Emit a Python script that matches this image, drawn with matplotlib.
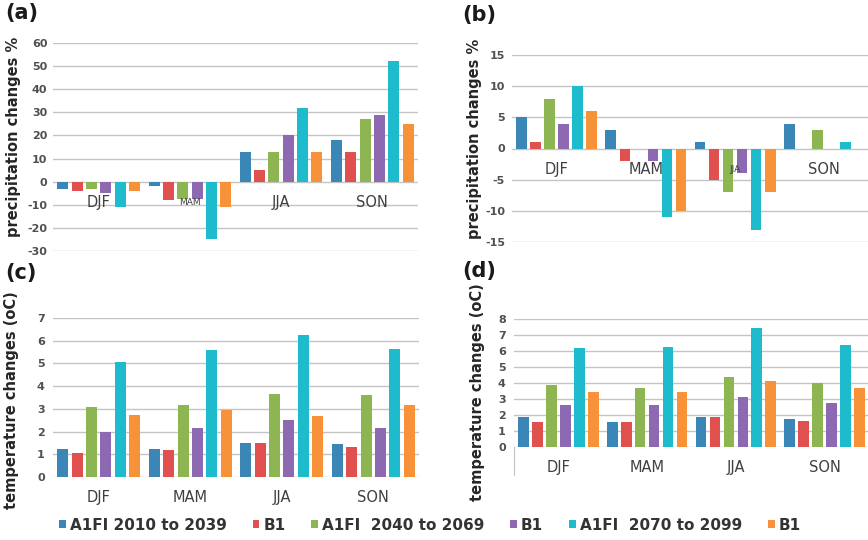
import numpy as np
import matplotlib
matplotlib.use("Agg")
import matplotlib.pyplot as plt
from matplotlib.patches import Patch

seasons = ["DJF", "MAM", "JJA", "SON"]
series_labels = ["A1FI 2010 to 2039", "B1", "A1FI  2040 to 2069", "B1",
                 "A1FI  2070 to 2099", "B1"]
colors = ["#3A87B7", "#E0504E", "#8DB653", "#8D69B1", "#1DBBCC", "#F79239"]

# rows = series (in legend order), columns = seasons
precip_a = [
    [-3, -2, 13, 18],
    [-4, -8, 5, 13],
    [-3, -7.5, 13, 27],
    [-5, -7.5, 20, 29],
    [-11, -25, 32, 52],
    [-4, -11, 13, 25],
]
precip_b = [
    [5, 3, 1, 4],
    [1, -2, -5, 0],
    [8, 0, -7, 3],
    [4, -2, -4, 0],
    [10, -11, -13, 1],
    [6, -10, -7, 0],
]
temp_c = [
    [1.25, 1.25, 1.5, 1.45],
    [1.05, 1.2, 1.5, 1.3],
    [3.1, 3.15, 3.65, 3.6],
    [2.0, 2.15, 2.5, 2.15],
    [5.05, 5.6, 6.25, 5.65],
    [2.75, 2.95, 2.7, 3.15],
]
temp_d = [
    [1.85, 1.55, 1.85, 1.75],
    [1.55, 1.55, 1.9, 1.6],
    [3.9, 3.7, 4.4, 4.0],
    [2.6, 2.6, 3.15, 2.75],
    [6.2, 6.25, 7.45, 6.4],
    [3.45, 3.45, 4.1, 3.7],
]

plt.rcParams['font.family'] = ['DejaVu Sans']
plt.rcParams['axes.unicode_minus'] = False

W, H = 868, 540
fig = plt.figure(figsize=(W / 100, H / 100), dpi=100)


def fpos(left, top, right, bottom):
    return [left / W, 1 - bottom / H, (right - left) / W, (bottom - top) / H]


panels = [
    dict(data=precip_a, pos=fpos(53, 43, 418, 251), ylim=(-30, 60), step=10,
         ylabel="precipitation changes %", letter="(a)", lx=5, ly=3,
         ylx=14, yly=137, small="MAM", pad=4),
    dict(data=precip_b, pos=fpos(512, 55, 869, 242), ylim=(-15, 15), step=5,
         ylabel="precipitation changes %", letter="(b)", lx=462, ly=5,
         ylx=475, yly=139, small="JJA", pad=5),
    dict(data=temp_c, pos=fpos(53, 318, 419, 477), ylim=(0, 7), step=1,
         ylabel="temperature changes (oC)", letter="(c)", lx=5, ly=263,
         ylx=12, yly=400, small=None, pad=6),
    dict(data=temp_d, pos=fpos(514, 319, 869, 447), ylim=(0, 8), step=1,
         ylabel="temperature changes (oC)", letter="(d)", lx=462, ly=261,
         ylx=477, yly=392, small=None, pad=6),
]

x = np.arange(len(seasons))
slot = 0.157
bw = 0.12
grid_c = "#C4C4C4"
txt_c = "#404040"

for p in panels:
    ax = fig.add_axes(p["pos"])
    ax.set_xlim(-0.5, len(seasons) - 0.5)
    ax.set_ylim(*p["ylim"])
    ax.set_yticks(np.arange(p["ylim"][0], p["ylim"][1] + 0.001, p["step"]))
    ax.yaxis.grid(True, color=grid_c, linewidth=1.0)
    ax.set_axisbelow(True)
    for s in ["top", "right", "bottom", "left"]:
        ax.spines[s].set_visible(False)
    ax.set_xticks([])
    ax.tick_params(axis="y", length=0, pad=p["pad"], labelsize=8,
                   labelcolor="#505050")
    for lab in ax.get_yticklabels():
        lab.set_fontweight("bold")
    for i, vals in enumerate(p["data"]):
        ax.bar(x + (i - 2.5) * slot, vals, width=bw, color=colors[i],
               zorder=3)
    for j, s in enumerate(seasons):
        fs = 6.5 if s == p["small"] else 10.5
        ax.annotate(s, (x[j], 0), xytext=(0, -15), textcoords="offset points",
                    ha="center", va="center", fontsize=fs, color=txt_c,
                    zorder=4)
    ax.set_ylabel(p["ylabel"], fontsize=10.5, fontweight="bold", color="#262626")
    ax.yaxis.set_label_coords(p["ylx"] / W, 1 - p["yly"] / H,
                              transform=fig.transFigure)
    ax.yaxis.label.set_va("center")
    fig.text(p["lx"] / W, 1 - p["ly"] / H, p["letter"], fontsize=15,
             fontweight="bold", color="#1a1a1a", ha="left", va="top")
    if p["letter"] == "(d)":
        ax.spines["left"].set_visible(True)
        ax.spines["left"].set_color(grid_c)
        ax.spines["left"].set_bounds(-1.75, 0)

handles = [Patch(facecolor=c, edgecolor="none") for c in colors]
fig.legend(handles, series_labels, loc="center", bbox_to_anchor=(430 / W, 1 - 525 / H),
           ncol=6, frameon=False, handlelength=0.45,
           handleheight=0.45, handletextpad=0.25, columnspacing=1.7,
           prop={"weight": "bold", "size": 11}, labelcolor="#333333")

fig.savefig("out.png", dpi=100)
